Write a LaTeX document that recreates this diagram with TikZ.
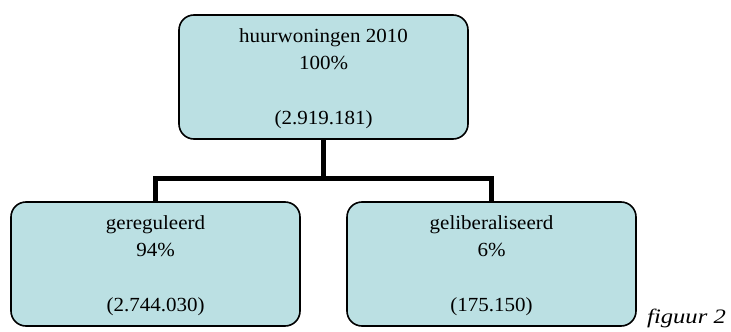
\documentclass[tikz,border=0pt]{standalone}
\usepackage{fontspec}
\setmainfont[FakeStretch=1.05]{Liberation Serif}
\newfontfamily\figfont[FakeStretch=1.2]{Liberation Serif}
\definecolor{boxfill}{RGB}{187,224,227}
\tikzset{
  box/.style={draw=black, line width=1.6pt, fill=boxfill, rounded corners=15pt,
    minimum width=289pt, minimum height=124pt, inner sep=0pt, outer sep=0pt},
  txt/.style={anchor=base, inner sep=0pt, font=\fontsize{20}{27.5}\selectfont},
  conn/.style={draw=black, line width=5pt, line join=miter},
}
\begin{document}
\begin{tikzpicture}[x=1pt,y=-1pt]
\useasboundingbox (0,0) rectangle (731,332);
\node[box] (top) at (323.5,77) {};
\node[box] (left) at (155.5,264) {};
\node[box] (right) at (491.5,264) {};
\coordinate (j) at (323.5,178);
\draw[conn] (top.south) -- (j);
\draw[conn] (left.north) -- (left.north |- j) -- (right.north |- j) -- (right.north);
\node[txt] (ttop) at ([yshift=-27pt]top.north) {\begin{tabular}[t]{@{}c@{}}huurwoningen 2010\\100\%\\ \\(2.919.181)\end{tabular}};
\node[txt] (tleft) at ([yshift=-27pt]left.north) {\begin{tabular}[t]{@{}c@{}}gereguleerd\\94\%\\ \\(2.744.030)\end{tabular}};
\node[txt] (tright) at ([yshift=-27pt]right.north) {\begin{tabular}[t]{@{}c@{}}geliberaliseerd\\6\%\\ \\(175.150)\end{tabular}};
\node[anchor=base west, inner sep=0pt, font=\figfont\itshape\fontsize{20.5}{24}\selectfont] (fig) at (647,323) {figuur 2};
\end{tikzpicture}
\end{document}
